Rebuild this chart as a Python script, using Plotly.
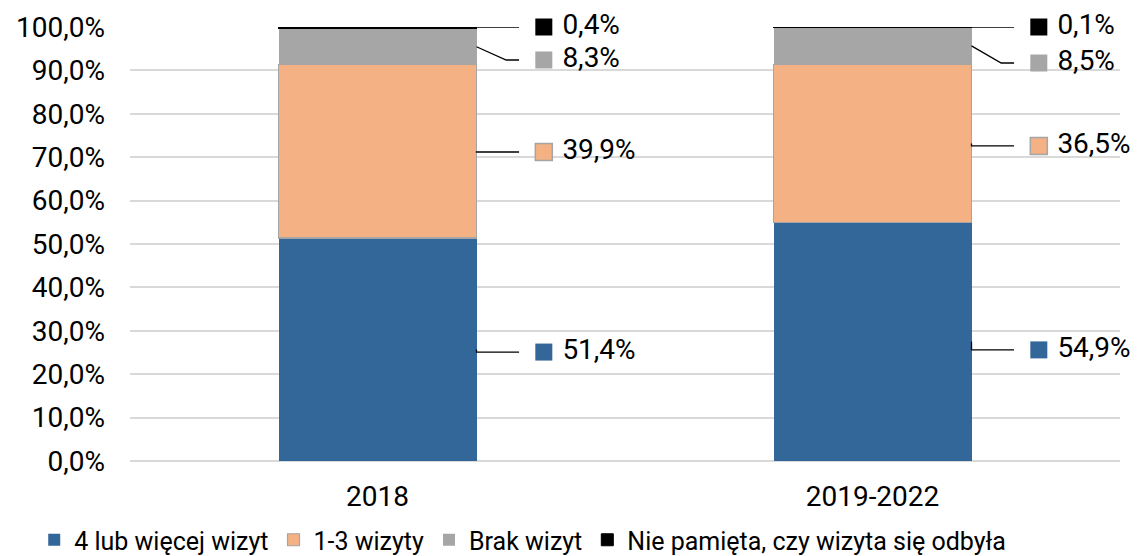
import plotly.graph_objects as go

# ---- data ----
categories = ["2018", "2019-2022"]
series_names = ["4 lub więcej wizyt", "1-3 wizyty", "Brak wizyt",
                "Nie pamięta, czy wizyta się odbyła"]
v_4_plus = [51.4, 54.9]
v_1_3 = [39.9, 36.5]
v_brak = [8.3, 8.5]
v_nie_pamieta = [0.4, 0.1]
y_ticks = [0, 10, 20, 30, 40, 50, 60, 70, 80, 90, 100]

# ---- style / layout constants ----
colors = ["#336699", "#F4B183", "#A6A6A6", "#000000"]
outline = ["#336699", "#A5A5A5", "#A6A6A6", "#000000"]
line_w = [0, 1.2, 0, 1.0]
FONT = "Roboto"
FS = 28
LEG_FS = 25
BAR_W = 0.40
LABEL_DX = 0.336          # label marker offset from category centre (data units)
# vertical nudge of label (percentage points) to mimic Excel's label placement
label_nudge = [[-0.6, -1.85], [-0.15, -0.55], [-3.05, -3.95], [0.2, 0.05]]

all_series = [v_4_plus, v_1_3, v_brak, v_nie_pamieta]
xs = list(range(len(categories)))

fig = go.Figure()

# stacked bars
for s, name in enumerate(series_names):
    fig.add_trace(go.Bar(
        x=xs, y=[v / 100 for v in all_series[s]], name=name, width=BAR_W,
        marker=dict(color=colors[s], line=dict(color=outline[s], width=line_w[s])),
        hoverinfo="skip",
    ))

def fmt(v):
    return f"{v:.1f}".replace(".", ",") + "%"

# data labels with leader lines
for s in range(len(series_names)):
    for i in xs:
        base = sum(all_series[k][i] for k in range(s))
        mid = (base + all_series[s][i] / 2) / 100
        ly = mid + label_nudge[s][i] / 100
        x0 = i + BAR_W / 2
        big_shift = abs(label_nudge[s][i]) > 2
        xe = x0 + 0.06 if big_shift else x0
        fig.add_trace(go.Scatter(
            x=[x0, xe, i + LABEL_DX - 0.05], y=[mid, ly, ly],
            mode="lines", line=dict(color="black", width=1.3),
            showlegend=False, hoverinfo="skip", cliponaxis=False,
        ))
        fig.add_trace(go.Scatter(
            x=[i + LABEL_DX], y=[ly], mode="markers+text",
            marker=dict(symbol="square", size=17, color=colors[s],
                        line=dict(color=outline[s], width=1.5 if s == 1 else 0)),
            text=[" " + fmt(all_series[s][i])], textposition="middle right",
            textfont=dict(family=FONT, size=FS, color="black"),
            showlegend=False, hoverinfo="skip", cliponaxis=False,
        ))

fig.update_layout(
    width=1141, height=556,
    margin=dict(l=130, r=21, t=27, b=95, autoexpand=False),
    barmode="stack",
    plot_bgcolor="white", paper_bgcolor="white",
    separators=", ",
    font=dict(family=FONT, size=FS, color="black"),
    showlegend=True,
    legend=dict(orientation="h", xref="container", yref="container",
                x=0.03, xanchor="left", y=(556 - 540) / 556, yanchor="middle",
                bgcolor="rgba(0,0,0,0)",
                font=dict(family=FONT, size=LEG_FS, color="black"),
                itemwidth=30, traceorder="normal"),
    xaxis=dict(range=[-0.5, 1.5], tickvals=xs, ticktext=categories, showgrid=False,
               zeroline=False, showline=False, ticks="", ticklabelstandoff=16,
               automargin=False,
               tickfont=dict(family=FONT, size=FS, color="black")),
    yaxis=dict(range=[0, 1], tickvals=[t / 100 for t in y_ticks], tickformat=".1%",
               showgrid=True, gridcolor="#D9D9D9", gridwidth=1.5,
               zeroline=True, zerolinecolor="#D9D9D9", zerolinewidth=1.5,
               showline=False, ticks="", ticklabelstandoff=24, automargin=False,
               tickfont=dict(family=FONT, size=FS, color="black")),
)

fig.write_html("out.html", config={"displayModeBar": False},
               post_script="document.body.style.margin='0';document.body.style.padding='0';")
